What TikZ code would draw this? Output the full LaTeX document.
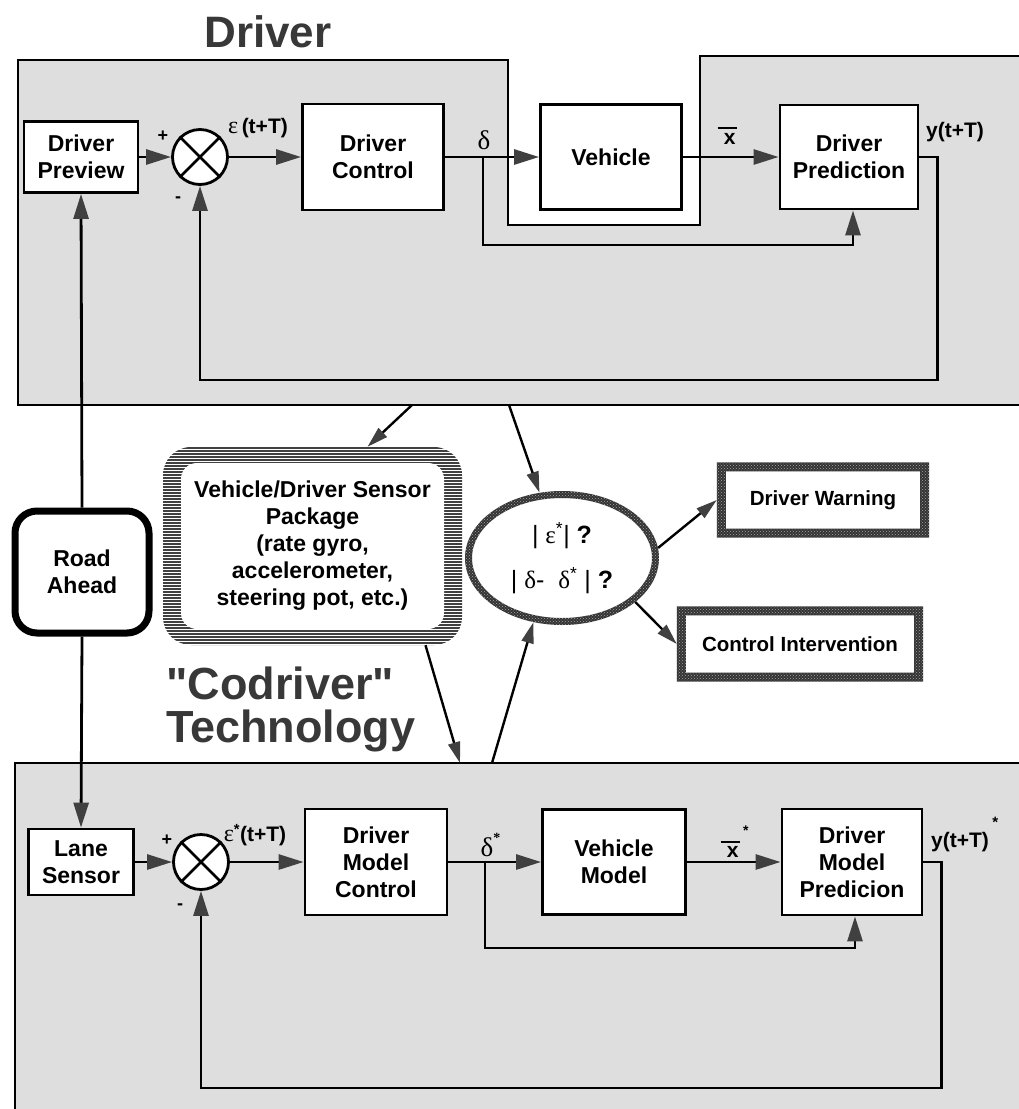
\documentclass[tikz,border=0pt]{standalone}
\usepackage{fontspec}
\setmainfont{Liberation Sans}
\newfontfamily\grk{Liberation Serif}
\usetikzlibrary{arrows.meta,shapes.geometric,patterns}
\newcommand{\fsz}[2]{\fontsize{#1}{#2}\selectfont}
\newcommand{\xbar}{\vbox{\hrule height 2pt width 19pt \kern 4pt \hbox to 19pt{\hss x\kern1pt}}}
\definecolor{bggray}{gray}{0.87}
\definecolor{ink}{gray}{0.22}
\tikzset{
  blk/.style={draw, fill=white, line width=2.8pt, align=center, inner sep=0pt, font=\bfseries\fsz{23}{27}},
  sumj/.style={draw, fill=white, circle, line width=2.8pt, minimum size=55pt, inner sep=0pt},
  lbl/.style={inner sep=0pt, font=\bfseries\fsz{21}{24}},
  sgn/.style={inner sep=0pt, font=\bfseries\fsz{18}{20}},
  sig/.style={inner sep=0pt, font=\grk\fsz{27}{28}},
  big/.style={inner sep=0pt, text=ink, font=\bfseries\fsz{45}{43}, align=left},
  alarm/.style={fill=white, align=center, inner sep=0pt, font=\bfseries\fsz{20.5}{24}},
  wire/.style={line width=2.8pt},
  flow/.style={line width=2.8pt, -{Triangle[length=25pt,width=15pt,color=black!75]}},
  link/.style={line width=2.4pt, -{Triangle[length=21pt,width=12pt,color=black!75]}},
  ring/.style={fill=black!80, even odd rule, postaction={even odd rule, pattern=crosshatch dots, pattern color=black!35}}
}
\begin{document}
\begin{tikzpicture}[x=1pt, y=-1pt]
    \useasboundingbox (0,0) rectangle (1018,1109);
    % shaded regions: driver (with the vehicle left out) and codriver
    \draw[wire, fill=bggray] (18,405) -- (18,60) -- (508,60) -- (508,225) -- (700,225) -- (700,56) -- (1030,56) -- (1030,405) -- cycle;
    \fill[bggray] (15,763) rectangle (1030,1120);
    \draw[wire] (1030,763) -- (15,763) -- (15,1120);

    \node[big, font=\bfseries\fsz{44}{44}] (ttl) at (268,32) {Driver};
    \node[big, anchor=north west] (codrv) at (166,667) {\textquotedbl Codriver\textquotedbl\\Technology};

    % driver loop
    \node[blk, minimum width=114pt, minimum height=71pt] (prev) at (81,157) {Driver\\Preview};
    \node[sumj] (s1) at (200,157) {};
    \draw[wire] (s1.north east) -- (s1.south west) (s1.north west) -- (s1.south east);
    \node[blk, minimum width=141pt, minimum height=106pt] (ctrl) at (373,157) {Driver\\Control};
    \node[blk, minimum width=141pt, minimum height=105pt] (veh) at (611,157) {Vehicle};
    \node[blk, minimum width=138pt, minimum height=104pt] (pred) at (849,157) {Driver\\Prediction};
    \coordinate (tap1) at (483,157);
    \draw[flow] (prev.east) -- (s1.west);
    \draw[flow] (s1.east) -- (ctrl.west);
    \draw[flow] (ctrl.east) -- (veh.west);
    \draw[flow] (veh.east) -- (pred.west);
    \draw[flow] (pred.east) -- ++(18,0) -- ++(0,223) -| (s1.south);
    \draw[flow] (tap1) -- ++(0,88) -| ([xshift=4pt]pred.south);
    \node[sgn] (p1) at (163,136) {+};
    \node[sgn] (m1) at (178,200) {-};
    \node[lbl] (e1) at (258,128) {{\mdseries\grk\fsz{24}{24}ε}\,(t+T)};
    \node[sig] (d1) at (484,140) {δ};
    \node[lbl] (x1) at (727,136) {\xbar};
    \node[lbl] (y1) at (955,132) {y(t+T)};

    % road, sensors and checks
    \node[blk, line width=7pt, rounded corners=22pt, minimum width=134pt, minimum height=122pt] (road) at (82,572) {Road\\Ahead};
    \begin{scope}
        \clip[rounded corners=28pt] (163,447) rectangle (462,645);
        \foreach \yy in {448,451,...,646} \draw[line width=1.5pt, black!75] (160,\yy) -- (465,\yy);
    \end{scope}
    \fill[white, rounded corners=16pt] (181,463) rectangle (444,629);
    \node[inner sep=0pt, minimum width=299pt, minimum height=198pt, align=center, font=\bfseries\fsz{23}{27}] (pkg) at (312.5,546)
        {Vehicle/Driver Sensor\\Package\\(rate gyro,\\accelerometer,\\steering pot, etc.)};
    \node[ellipse, inner sep=0pt, minimum width=194pt, minimum height=134pt, align=center, font=\fsz{25}{45}] (ell) at (562,558)
        {| {\grk ε}\textsuperscript{*}| \textbf{?}\\| {\grk δ}-\ \ {\grk δ}\textsuperscript{*} | \textbf{?}};
    \path[ring] (ell.center) ellipse [x radius=97pt, y radius=67pt] (ell.center) ellipse [x radius=90pt, y radius=60pt];
    \node[alarm, minimum width=212pt, minimum height=75pt] (warn) at (823,500) {Driver Warning};
    \path[ring] (warn.north west) rectangle (warn.south east) ([shift={(9pt,-9pt)}]warn.north west) rectangle ([shift={(-9pt,9pt)}]warn.south east);
    \node[alarm, minimum width=246pt, minimum height=75pt] (interv) at (800,644) {Control Intervention};
    \path[ring] (interv.north west) rectangle (interv.south east) ([shift={(9pt,-9pt)}]interv.north west) rectangle ([shift={(-9pt,9pt)}]interv.south east);
    \coordinate (tp1) at (412,405);
    \coordinate (tp2) at (509,405);
    \coordinate (bt1) at (460,763);
    \coordinate (bt2) at (492,763);
    \draw[link] (tp1) -- ([xshift=55pt]pkg.north);
    \draw[link] (tp2) -- (ell.109);
    \draw[link] ([xshift=113pt]pkg.south) -- (bt1);
    \draw[link] (bt2) -- (ell.246);
    \draw[link] (ell.6) -- (warn.west);
    \draw[link] (ell.-31) -- (interv.west);

    % codriver loop
    \node[blk, minimum width=105pt, minimum height=66pt] (lane) at (81,862) {Lane\\Sensor};
    \node[sumj] (s2) at (201,862) {};
    \draw[wire] (s2.north east) -- (s2.south west) (s2.north west) -- (s2.south east);
    \node[blk, minimum width=142pt, minimum height=106pt] (mctrl) at (376,862) {Driver\\Model\\Control};
    \node[blk, minimum width=143pt, minimum height=105pt] (vmod) at (614,862) {Vehicle\\Model};
    \node[blk, minimum width=140pt, minimum height=106pt] (mpred) at (852,862) {Driver\\Model\\Predicion};
    \coordinate (tap2) at (485,862);
    \draw[flow] (road.north) -- (prev.south);
    \draw[flow] (road.south) -- (lane.north);
    \draw[flow] (lane.east) -- (s2.west);
    \draw[flow] (s2.east) -- (mctrl.west);
    \draw[flow] (mctrl.east) -- (vmod.west);
    \draw[flow] (vmod.east) -- (mpred.west);
    \draw[flow] (mpred.east) -- ++(18,0) -- ++(0,226) -| (s2.south);
    \draw[flow] (tap2) -- ++(0,86) -| ([xshift=3pt]mpred.south);
    \node[sgn] (p2) at (167,840) {+};
    \node[sgn] (m2) at (180,907) {-};
    \node[lbl] (e2) at (255,835) {{\mdseries\grk\fsz{24}{24}ε}\textsuperscript{*}(t+T)};
    \node[sig] (d2) at (487,845) {δ\rlap{\raisebox{14pt}{\bfseries\fsz{14}{14}*}}};
    \node[lbl] (x2) at (730,842) {\xbar\rlap{\raisebox{22pt}{\,\fsz{14}{14}*}}};
    \node[lbl] (y2) at (960,835) {y(t+T)\rlap{\raisebox{20pt}{\,\fsz{15}{15}*}}};
\end{tikzpicture}
\end{document}
